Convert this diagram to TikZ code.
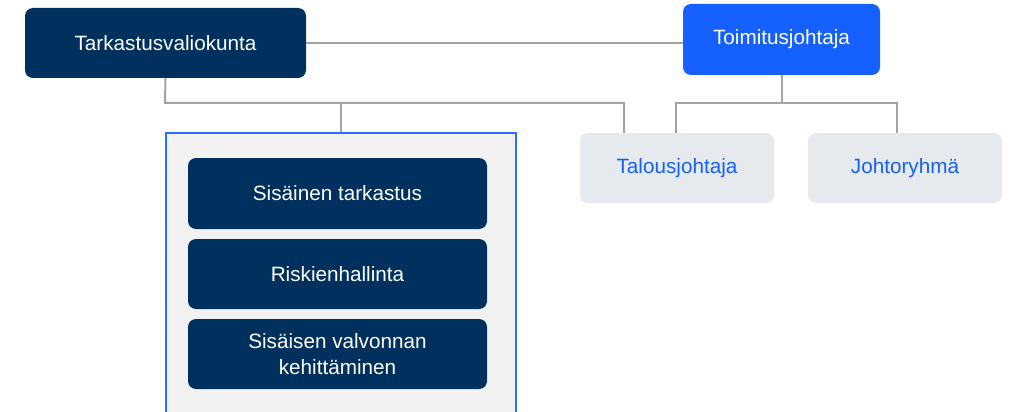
\documentclass[tikz,border=0pt]{standalone}
\usepackage{fontspec}
\setmainfont{Liberation Sans}
\definecolor{navy}{RGB}{0,48,94}
\definecolor{brightblue}{RGB}{21,96,255}
\definecolor{framblue}{RGB}{40,110,255}
\definecolor{lightgray}{RGB}{230,234,238}
\definecolor{contgray}{RGB}{242,242,242}
\definecolor{linegray}{RGB}{160,164,166}
\begin{document}
\begin{tikzpicture}[x=1pt,y=-1pt,
  box/.style={rounded corners=8pt, inner sep=0pt, align=center, font=\fontsize{20.7}{25}\selectfont},
  darkbox/.style={box, fill=navy, text=white},
  bluebox/.style={box, fill=brightblue, text=white},
  greybox/.style={box, fill=lightgray, text=brightblue},
  conn/.style={draw=linegray, line width=2pt}]
\useasboundingbox (0,0) rectangle (1013,412);
\clip (0,0) rectangle (1013,412);
% container
\node[draw=framblue, fill=contgray, line width=2pt, minimum width=350pt, minimum height=290pt, anchor=north west, inner sep=0pt] (cont) at (165,132) {};
% top boxes
\node[darkbox, minimum width=281pt, minimum height=70pt] (tv) at (165.5,43) {Tarkastusvaliokunta};
\node[bluebox, minimum width=197pt, minimum height=71pt] (tj) at (781.5,39.5) {Toimitusjohtaja};
\node[greybox, minimum width=194pt, minimum height=70pt] (tal) at (677,168) {Talousjohtaja};
\node[greybox, minimum width=194pt, minimum height=70pt] (jr) at (905,168) {Johtoryhmä};
% inner boxes
\node[darkbox, minimum width=299pt, minimum height=71pt] (st) at (337.5,193.5) {Sisäinen tarkastus};
\node[darkbox, minimum width=299pt, minimum height=70pt] (rh) at (337.5,274) {Riskienhallinta};
\node[darkbox, minimum width=299pt, minimum height=70pt] (svk) at (337.5,354) {Sisäisen valvonnan\\[1pt]kehittäminen};
% coordinates
\coordinate (a1) at (165,103);
\coordinate (a2) at (624,103);
\coordinate (b1) at (676,103);
\coordinate (b2) at (897,103);
% connectors
\draw[conn] (tv.east) -- (tv.east -| tj.west);
\draw[conn] (tv.south) -- (a1) -- (a2) -- (a2 |- tal.north);
\draw[conn] (cont.north |- a1) -- (cont.north);
\draw[conn] (tj.south) -- (tj.south |- b1);
\draw[conn] (b1 |- tal.north) -- (b1) -- (b2) -- (b2 |- jr.north);
\end{tikzpicture}
\end{document}
